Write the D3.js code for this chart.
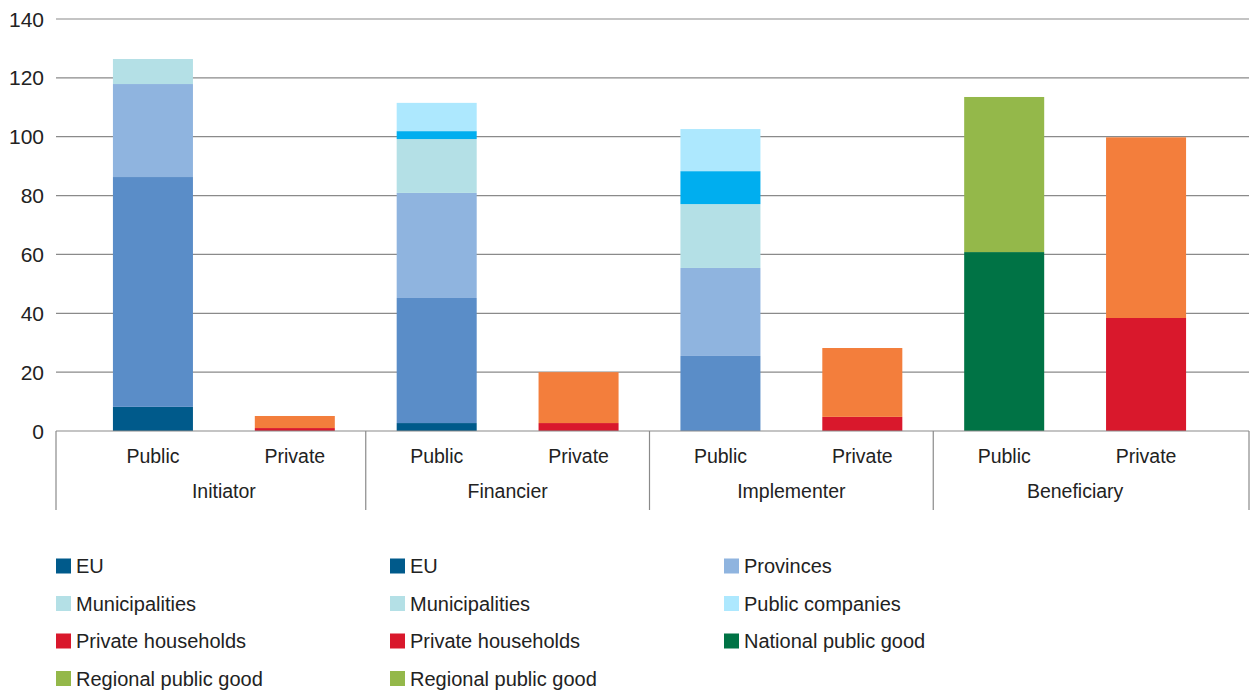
<!DOCTYPE html>
<html>
<head>
<meta charset="utf-8">
<script src="https://cdn.jsdelivr.net/npm/d3@7"></script>
<style>
    body { margin: 0; background: #fff; }
    text { font-family: "Liberation Sans", Arial, sans-serif; fill: #222; }
</style>
</head>
<body>
<svg id="chart" width="1251" height="690"></svg>
<script>
// roles and the public / private split under each
const roles = ["Initiator", "Financier", "Implementer", "Beneficiary"];
const sectors = ["Public", "Private"];
const yTicks = [0, 20, 40, 60, 80, 100, 120, 140];

// stacked series, bottom to top, one value per bar (role x sector)
const seriesKeys = ["eu", "central", "provinces", "municipalities", "waterBoards",
    "publicCompanies", "households", "companies", "national", "regional"];
const eu              = [8.2, 0, 2.7, 0, 0, 0, 0, 0];
const central         = [78.1, 0, 42.5, 0, 25.5, 0, 0, 0];
const provinces       = [31.6, 0, 35.7, 0, 29.9, 0, 0, 0];
const municipalities  = [8.5, 0, 18.3, 0, 21.7, 0, 0, 0];
const waterBoards     = [0, 0, 2.7, 0, 11.2, 0, 0, 0];
const publicCompanies = [0, 0, 9.6, 0, 14.3, 0, 0, 0];
const households      = [0, 1.0, 0, 2.7, 0, 4.8, 0, 38.4];
const companies       = [0, 4.1, 0, 17.3, 0, 23.4, 0, 61.4];
const national        = [0, 0, 0, 0, 0, 0, 60.8, 0];
const regional        = [0, 0, 0, 0, 0, 0, 52.7, 0];

// legend entries as printed under the chart
const legendLabels = ["EU", "EU", "Provinces", "Municipalities", "Municipalities",
    "Public companies", "Private households", "Private households",
    "National public good", "Regional public good", "Regional public good"];
const legendKeys = ["eu", "eu", "provinces", "municipalities", "municipalities",
    "publicCompanies", "households", "households", "national", "regional", "regional"];

const colors = {
    eu: "#005a8b", central: "#5a8dc8", provinces: "#8fb4df", municipalities: "#b4e0e6",
    waterBoards: "#00aeef", publicCompanies: "#ade8fe", households: "#d9182c",
    companies: "#f37e3c", national: "#007345", regional: "#94b84a"
};

const values = { eu, central, provinces, municipalities, waterBoards, publicCompanies,
    households, companies, national, regional };

// one row per bar
let rows = [];
roles.forEach((r, i) => {
    sectors.forEach((s, j) => {
        let idx = i * sectors.length + j;
        let row = { id: r + "|" + s, role: r, sector: s };
        seriesKeys.forEach(k => { row[k] = values[k][idx]; });
        rows.push(row);
    });
});

const svg = d3.select("#chart");
const axisLeftX = 56, axisRightX = 1249;

let x = d3.scaleBand()
    .domain(rows.map(d => d.id))
    .range([82, 1217])
    .paddingInner(0.436)
    .paddingOuter(0.218);

let y = d3.scaleLinear()
    .domain([0, 140])
    .range([431, 19]);

// gridlines
svg.append("g")
    .selectAll("line")
    .data(yTicks.filter(t => t > 0))
    .enter().append("line")
    .attr("x1", axisLeftX)
    .attr("x2", axisRightX)
    .attr("y1", d => y(d))
    .attr("y2", d => y(d))
    .attr("stroke", "#8a8a8a")
    .attr("stroke-width", 1.2);

// y tick labels
svg.append("g")
    .selectAll("text")
    .data(yTicks)
    .enter().append("text")
    .attr("x", 44)
    .attr("y", d => y(d))
    .attr("dy", "0.36em")
    .attr("text-anchor", "end")
    .style("font-size", "21px")
    .text(d => d);

// bars
let stacked = d3.stack().keys(seriesKeys)(rows);

svg.append("g")
    .selectAll("g")
    .data(stacked)
    .enter().append("g")
    .attr("fill", d => colors[d.key])
    .selectAll("rect")
    .data(d => d.filter(p => p[1] - p[0] > 0))
    .enter().append("rect")
    .attr("x", d => x(d.data.id))
    .attr("width", x.bandwidth())
    .attr("y", d => y(d[1]))
    .attr("height", d => y(d[0]) - y(d[1]));

// category axis: baseline and group separators
svg.append("line")
    .attr("x1", axisLeftX).attr("x2", axisRightX)
    .attr("y1", y(0)).attr("y2", y(0))
    .attr("stroke", "#8a8a8a")
    .attr("stroke-width", 1.2);

let centre = id => x(id) + x.bandwidth() / 2;
let seps = [axisLeftX];
for (let i = 1; i < roles.length; i++) {
    let a = centre(roles[i - 1] + "|" + sectors[sectors.length - 1]);
    let b = centre(roles[i] + "|" + sectors[0]);
    seps.push((a + b) / 2);
}
seps.push(axisRightX);

svg.append("g")
    .selectAll("line")
    .data(seps)
    .enter().append("line")
    .attr("x1", d => d).attr("x2", d => d)
    .attr("y1", y(0)).attr("y2", 510)
    .attr("stroke", "#8a8a8a")
    .attr("stroke-width", 1.2);

// sector labels
svg.append("g")
    .selectAll("text")
    .data(rows)
    .enter().append("text")
    .attr("x", d => centre(d.id))
    .attr("y", 463)
    .attr("text-anchor", "middle")
    .style("font-size", "19.5px")
    .text(d => d.sector);

// role labels
svg.append("g")
    .selectAll("text")
    .data(roles)
    .enter().append("text")
    .attr("x", r => (centre(r + "|" + sectors[0]) + centre(r + "|" + sectors[sectors.length - 1])) / 2)
    .attr("y", 498)
    .attr("text-anchor", "middle")
    .style("font-size", "19.5px")
    .text(r => r);

// legend, three columns filled row by row
let legendX = [56, 390, 724];
let legendY = d3.scaleLinear().domain([0, 1]).range([566, 603.5]);

let item = svg.append("g")
    .selectAll("g")
    .data(legendLabels)
    .enter().append("g")
    .attr("transform", (d, i) => "translate(" + legendX[i % 3] + "," + legendY(Math.floor(i / 3)) + ")");

item.append("rect")
    .attr("x", 0)
    .attr("y", -7.5)
    .attr("width", 15)
    .attr("height", 15)
    .attr("fill", (d, i) => colors[legendKeys[i]]);

item.append("text")
    .attr("x", 20)
    .attr("y", 7)
    .style("font-size", "20px")
    .text(d => d);
</script>
</body>
</html>
